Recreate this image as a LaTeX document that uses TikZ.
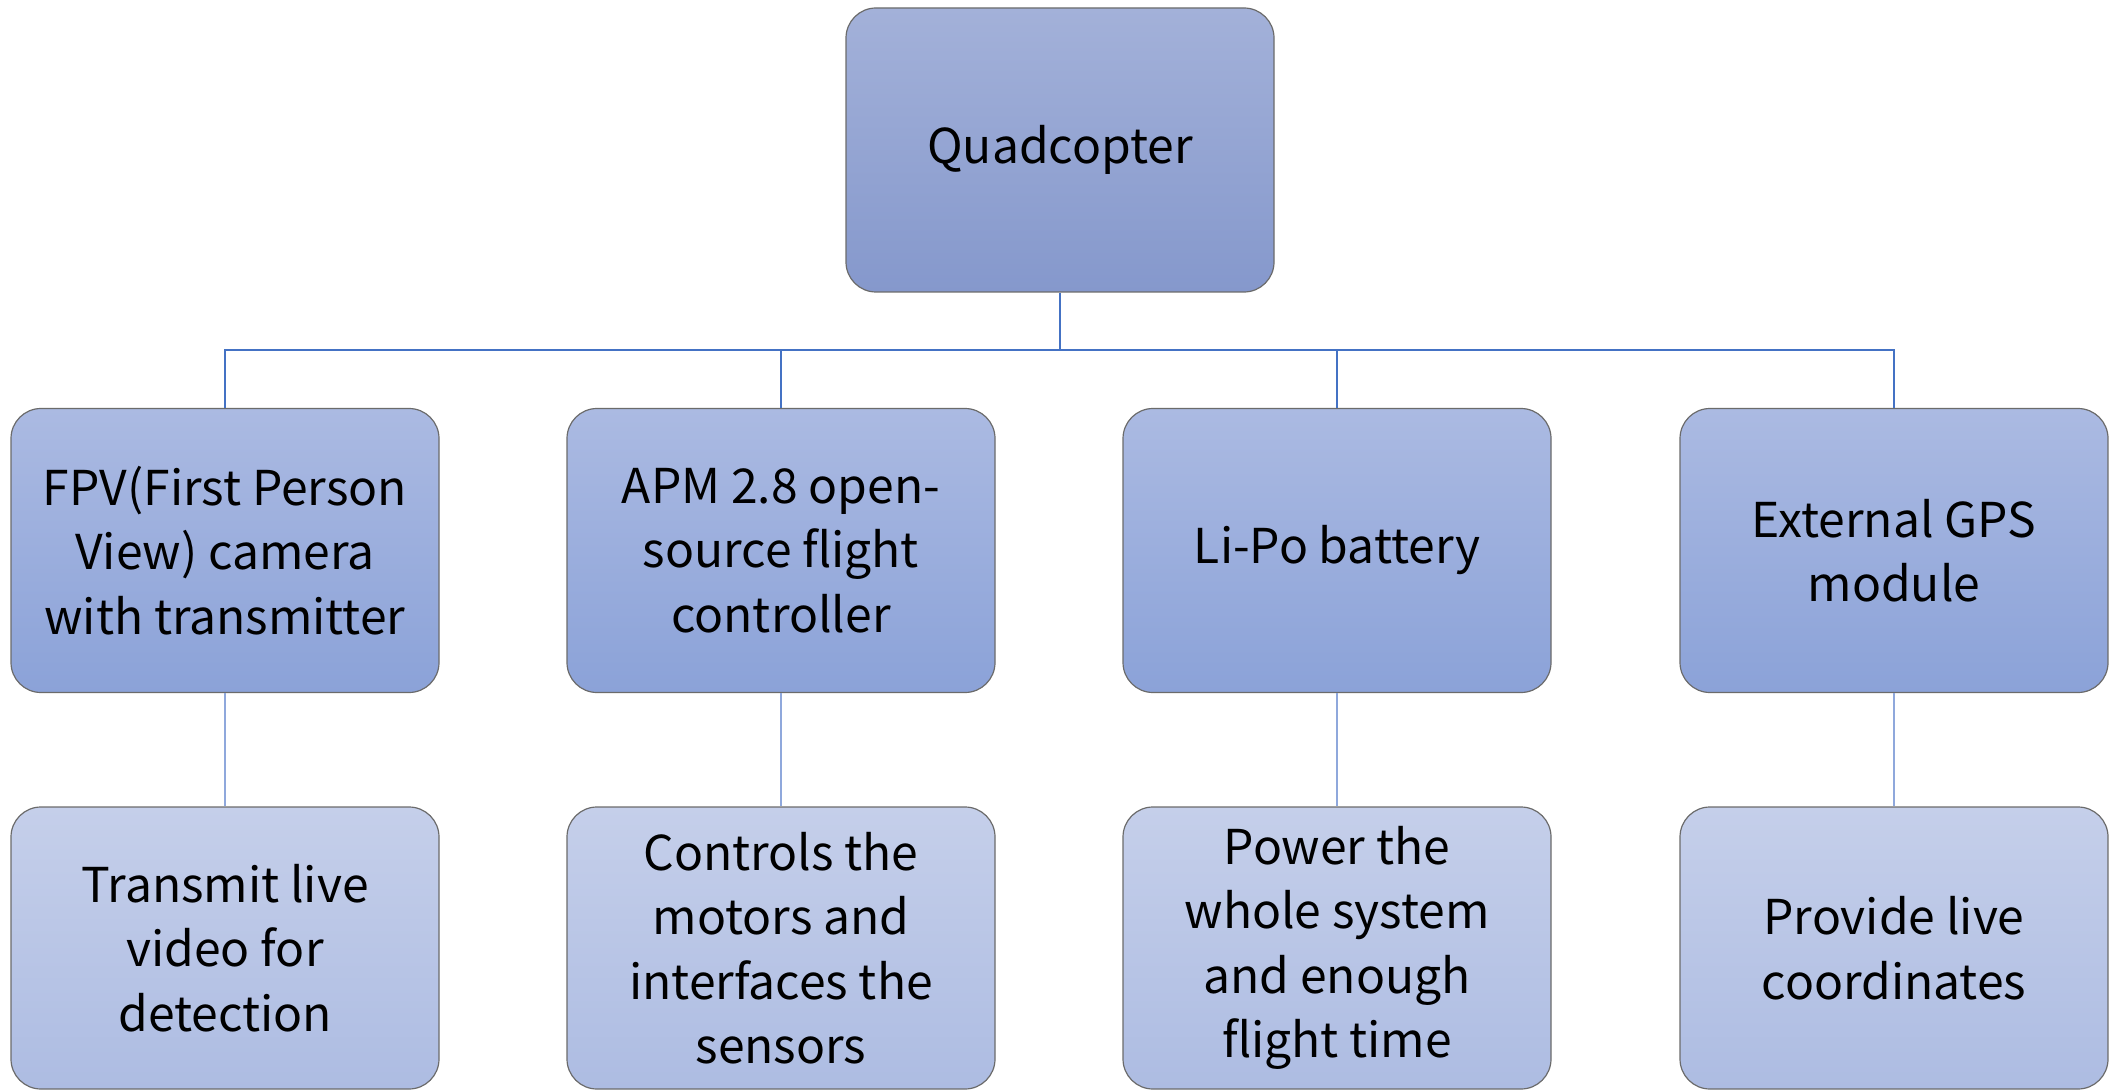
\documentclass[tikz,border=0pt]{standalone}
\usepackage{fontspec}
\setmainfont{Noto Sans CJK SC}
\definecolor{topA}{HTML}{A3B1D9}
\definecolor{topB}{HTML}{8598CC}
\definecolor{midA}{HTML}{ABBAE2}
\definecolor{midB}{HTML}{8BA2D8}
\definecolor{lowA}{HTML}{C5CFEA}
\definecolor{lowB}{HTML}{ADBCE2}
\definecolor{edge}{HTML}{6B6B6B}
\definecolor{bus}{HTML}{4472C4}
\definecolor{thin}{HTML}{8FA8DC}
\tikzset{
  card/.style={rounded corners=30pt, draw=edge, line width=1.2pt,
    minimum width=428pt, minimum height=284pt, align=center, inner sep=0pt,
    font=\fontsize{48}{64.5}\selectfont},
  topcard/.style={card, top color=topA, bottom color=topB},
  midcard/.style={card, top color=midA, bottom color=midB},
  lowcard/.style={card, top color=lowA, bottom color=lowB, minimum height=282pt},
  busline/.style={draw=bus, line width=2pt},
  thinline/.style={draw=thin, line width=1.6pt}
}
\begin{document}
\begin{tikzpicture}[x=1pt,y=-1pt]
\useasboundingbox (0,0) rectangle (2109,1091);
\node[topcard] (q) at (1060,150) {Quadcopter};
\node[midcard] (a) at (225,550.5) {FPV(First Person\\View) camera\\with transmitter};
\node[midcard] (b) at (781,550.5) {APM 2.8 open-\\source flight\\controller};
\node[midcard] (c) at (1337,550.5) {Li-Po battery};
\node[midcard] (d) at (1894,550.5) {External GPS\\module};
\node[lowcard] (a2) at (225,948) {Transmit live\\video for\\detection};
\node[lowcard] (b2) at (781,948) {Controls the\\motors and\\interfaces the\\sensors};
\node[lowcard] (c2) at (1337,948) {Power the\\whole system\\and enough\\flight time};
\node[lowcard] (d2) at (1894,948) {Provide live\\coordinates};
\coordinate (hub) at (1060,350);
\draw[busline] (q.south) -- (hub);
\draw[busline] (hub) -| (a.north);
\draw[busline] (hub) -| (b.north);
\draw[busline] (hub) -| (c.north);
\draw[busline] (hub) -| (d.north);
\draw[thinline] (a.south) -- (a2.north);
\draw[thinline] (b.south) -- (b2.north);
\draw[thinline] (c.south) -- (c2.north);
\draw[thinline] (d.south) -- (d2.north);
\end{tikzpicture}
\end{document}
